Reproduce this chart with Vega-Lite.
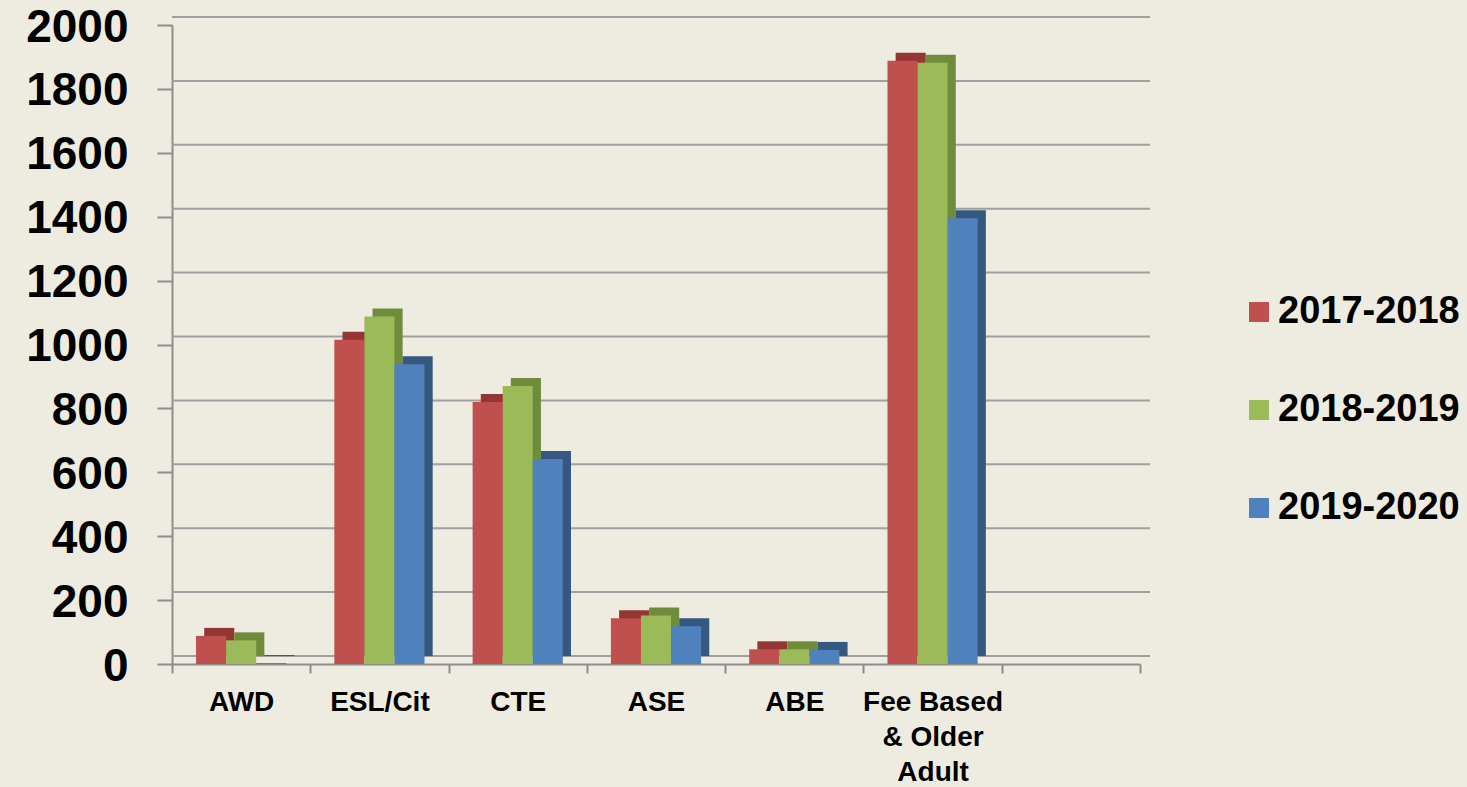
{
  "$schema": "https://vega.github.io/schema/vega-lite/v6.json",
  "width": 968,
  "height": 639,
  "autosize": {"type": "none"},
  "padding": {"left": 172, "top": 25, "right": 327, "bottom": 123},
  "background": "#EEECE1",
  "config": {
    "view": {"stroke": null},
    "font": "Liberation Sans",
    "axisX": {
      "domainColor": "#8C8C8C", "domainWidth": 2, "tickColor": "#8C8C8C", "tickWidth": 2, "tickSize": 9,
      "tickBand": "extent", "labelFontSize": 28, "labelFontWeight": "bold", "labelColor": "#000000",
      "labelPadding": 15, "labelLineHeight": 35, "labelAngle": 0, "grid": false
    },
    "axisY": {
      "domainColor": "#8C8C8C", "domainWidth": 2, "tickColor": "#8C8C8C", "tickWidth": 2, "tickSize": 15,
      "labelFontSize": 46, "labelFontWeight": "bold", "labelColor": "#000000", "labelPadding": 29,
      "labelOffset": 2, "grid": false
    },
    "legend": {
      "orient": "none", "legendX": 1068, "legendY": 268, "labelFontSize": 38, "labelFontWeight": "bold",
      "labelColor": "#000000", "symbolType": "square", "symbolSize": 400, "symbolStrokeWidth": 0,
      "rowPadding": 60, "labelOffset": 0, "padding": 0, "labelLimit": 400
    }
  },
  "datasets": {
    "bars": [
      {"cat": "AWD", "year": "2017-2018", "value": 88},
      {"cat": "AWD", "year": "2018-2019", "value": 74},
      {"cat": "AWD", "year": "2019-2020", "value": 3},
      {"cat": "ESL/Cit", "year": "2017-2018", "value": 1015},
      {"cat": "ESL/Cit", "year": "2018-2019", "value": 1088},
      {"cat": "ESL/Cit", "year": "2019-2020", "value": 938},
      {"cat": "CTE", "year": "2017-2018", "value": 820},
      {"cat": "CTE", "year": "2018-2019", "value": 870},
      {"cat": "CTE", "year": "2019-2020", "value": 642},
      {"cat": "ASE", "year": "2017-2018", "value": 143},
      {"cat": "ASE", "year": "2018-2019", "value": 152},
      {"cat": "ASE", "year": "2019-2020", "value": 118},
      {"cat": "ABE", "year": "2017-2018", "value": 46},
      {"cat": "ABE", "year": "2018-2019", "value": 46},
      {"cat": "ABE", "year": "2019-2020", "value": 44},
      {"cat": "Fee Based & Older Adult", "year": "2017-2018", "value": 1888},
      {"cat": "Fee Based & Older Adult", "year": "2018-2019", "value": 1882},
      {"cat": "Fee Based & Older Adult", "year": "2019-2020", "value": 1395}
    ],
    "grid": [
      {"value": 0}, {"value": 200}, {"value": 400}, {"value": 600}, {"value": 800}, {"value": 1000},
      {"value": 1200}, {"value": 1400}, {"value": 1600}, {"value": 1800}, {"value": 2000}
    ]
  },
  "resolve": {"scale": {"color": "independent", "xOffset": "independent"}},
  "layer": [
    {
      "data": {"name": "grid"},
      "mark": {"type": "rule", "color": "#A0A0A0", "strokeWidth": 2, "xOffset": 10, "x2Offset": 10, "yOffset": -8},
      "encoding": {
        "y": {"field": "value", "type": "quantitative", "title": null,
              "scale": {"domain": [0, 2000], "nice": false},
              "axis": {"values": [0, 200, 400, 600, 800, 1000, 1200, 1400, 1600, 1800, 2000], "format": "d", "title": null}}
      }
    },
    {
      "data": {"name": "bars"},
      "mark": {"type": "bar", "yOffset": -8, "y2Offset": -8},
      "encoding": {
        "x": {"field": "cat", "type": "nominal", "title": null,
              "scale": {"domain": ["AWD", "ESL/Cit", "CTE", "ASE", "ABE", "Fee Based & Older Adult", " "], "paddingInner": 0, "paddingOuter": 0},
              "axis": {"title": null, "labelExpr": "datum.value == 'Fee Based & Older Adult' ? ['Fee Based', '& Older', 'Adult'] : datum.value"}},
        "xOffset": {"field": "year", "type": "nominal", "scale": {"paddingInner": 0, "paddingOuter": 0.8, "align": 0.67}},
        "y": {"field": "value", "type": "quantitative", "title": null},
        "color": {"field": "year", "type": "nominal", "legend": null,
                  "scale": {"domain": ["2017-2018", "2018-2019", "2019-2020"], "range": ["#943634", "#6E8C3A", "#34587F"]}}
      }
    },
    {
      "data": {"name": "bars"},
      "mark": {"type": "bar"},
      "encoding": {
        "x": {"field": "cat", "type": "nominal", "title": null},
        "xOffset": {"field": "year", "type": "nominal", "scale": {"paddingInner": 0, "paddingOuter": 0.8}},
        "y": {"field": "value", "type": "quantitative", "title": null},
        "color": {"field": "year", "type": "nominal", "title": null,
                  "scale": {"domain": ["2017-2018", "2018-2019", "2019-2020"], "range": ["#C0504D", "#9BBB59", "#4F81BD"]},
                  "legend": {"title": null}}
      }
    }
  ]
}
